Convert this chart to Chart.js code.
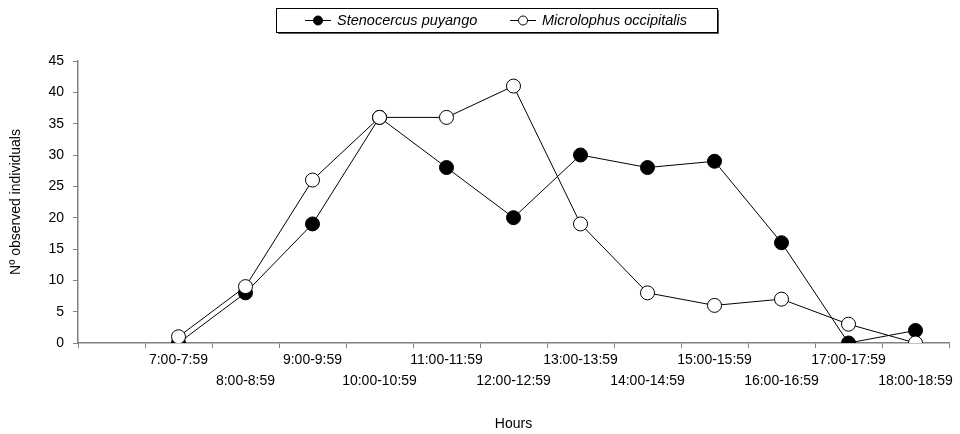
<!DOCTYPE html>
<html>
<head>
<meta charset="utf-8">
<script src="https://cdn.jsdelivr.net/npm/chart.js@4.4.1/dist/chart.umd.min.js"></script>
<style>
  html, body { margin: 0; padding: 0; background: #fff; }
  #wrap { width: 960px; height: 434px; }
</style>
</head>
<body>
<div id="wrap"><canvas id="chart" width="960" height="434"></canvas></div>
<script>
// first category is left empty, like in the original figure
var hours = ['', '7:00-7:59', '8:00-8:59', '9:00-9:59', '10:00-10:59', '11:00-11:59', '12:00-12:59',
  '13:00-13:59', '14:00-14:59', '15:00-15:59', '16:00-16:59', '17:00-17:59', '18:00-18:59'];
var stenocercus = [null, 0, 8, 19, 36, 28, 20, 30, 28, 29, 16, 0, 2];
var microlophus = [null, 1, 9, 26, 36, 36, 41, 19, 8, 6, 7, 3, 0];
var yTicks = [0, 5, 10, 15, 20, 25, 30, 35, 40, 45];

var font = "'Liberation Sans', Arial, sans-serif";

// two rows of labels, alternating
var labels = hours.map(function (h, i) {
  return (i % 2 == 1) ? [h, ''] : ['', h];
});

var legendBox = {
  id: 'legendBox',
  afterDraw: function (chart) {
    var c = chart.ctx;
    c.save();
    c.strokeStyle = '#000';
    c.lineWidth = 1;
    c.strokeRect(276.5, 8.5, 441, 24);
    // small shadow on right / bottom
    c.strokeStyle = '#555';
    c.beginPath();
    c.moveTo(718.5, 10); c.lineTo(718.5, 33.5); c.lineTo(278, 33.5);
    c.stroke();

    var items = [
      { x: 305, text: 'Stenocercus puyango', fill: '#000' },
      { x: 510, text: 'Microlophus occipitalis', fill: '#fff' }
    ];
    items.forEach(function (it) {
      var y = 20.5;
      c.strokeStyle = '#000';
      c.beginPath();
      c.moveTo(it.x, y); c.lineTo(it.x + 26, y);
      c.stroke();
      c.beginPath();
      c.arc(it.x + 13, y, 4.5, 0, Math.PI * 2);
      c.fillStyle = it.fill;
      c.fill();
      c.stroke();
      c.fillStyle = '#000';
      c.font = 'italic 14.5px ' + font;
      c.textBaseline = 'middle';
      c.textAlign = 'left';
      c.fillText(it.text, it.x + 32, y);
    });
    c.restore();
  }
};

var ctx = document.getElementById('chart').getContext('2d');
var lineChart = new Chart(ctx, {
  type: 'line',
  data: {
    labels: labels,
    datasets: [
      {
        label: 'Stenocercus puyango',
        data: stenocercus,
        borderColor: '#000',
        borderWidth: 1,
        backgroundColor: '#000',
        pointBackgroundColor: '#000',
        pointBorderColor: '#000',
        pointRadius: 7,
        pointBorderWidth: 1,
        order: 2
      },
      {
        label: 'Microlophus occipitalis',
        data: microlophus,
        borderColor: '#000',
        borderWidth: 1,
        backgroundColor: '#fff',
        pointBackgroundColor: '#fff',
        pointBorderColor: '#000',
        pointRadius: 7,
        pointBorderWidth: 1,
        order: 1
      }
    ]
  },
  options: {
    responsive: false,
    animation: false,
    layout: { padding: { top: 61, right: 11, left: 8, bottom: 0 } },
    plugins: {
      legend: { display: false },
      tooltip: { enabled: false }
    },
    scales: {
      x: {
        offset: true,
        grid: {
          display: true,
          drawOnChartArea: false,
          drawTicks: true,
          tickLength: 5,
          color: '#808080',
          offset: true
        },
        border: { color: '#808080', width: 1.5 },
        ticks: {
          color: '#000',
          font: { family: font, size: 14, lineHeight: 1.5 },
          maxRotation: 0,
          autoSkip: false,
          padding: 2
        },
        title: {
          display: true,
          text: 'Hours',
          color: '#000',
          font: { family: font, size: 14 },
          padding: { top: 20, bottom: 1 }
        },
        afterFit: function (s) { s.height = 91; }
      },
      y: {
        min: 0,
        max: 45,
        afterBuildTicks: function (s) {
          s.ticks = yTicks.map(function (v) { return { value: v }; });
        },
        grid: {
          display: true,
          drawOnChartArea: false,
          tickLength: 5,
          color: '#808080'
        },
        border: { color: '#808080', width: 1.5 },
        ticks: {
          color: '#000',
          font: { family: font, size: 14 },
          padding: 9
        },
        title: {
          display: true,
          text: 'Nº observed individuals',
          color: '#000',
          font: { family: font, size: 14 },
          padding: 0
        },
        afterFit: function (s) { s.width = 70; }
      }
    }
  },
  plugins: [legendBox]
});
</script>
</body>
</html>
